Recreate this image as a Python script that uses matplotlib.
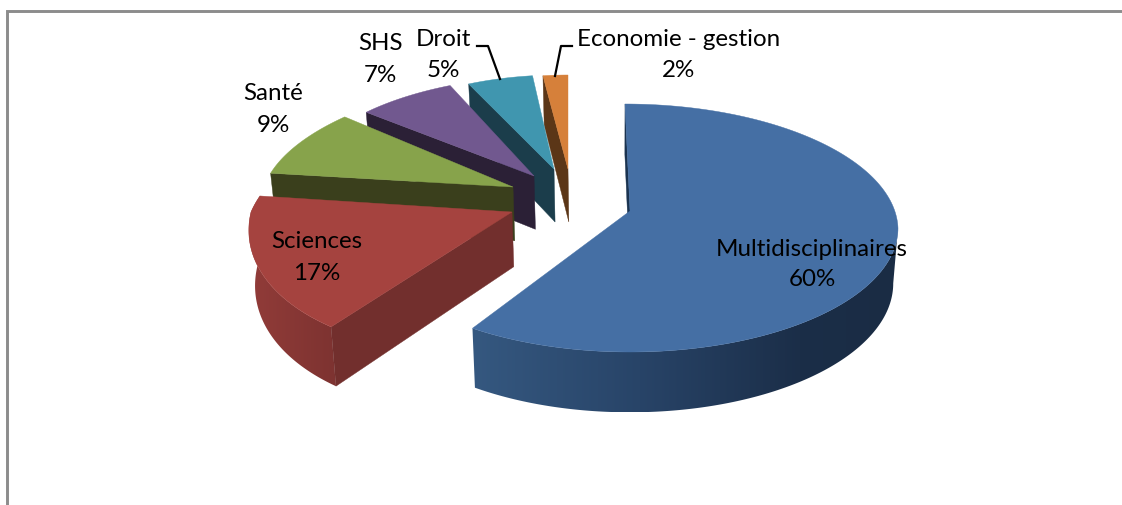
import numpy as np
import matplotlib
matplotlib.use('Agg')
import matplotlib.pyplot as plt
from matplotlib.patches import Polygon

# Donnees du camembert (sens horaire depuis le haut)
labels = ['Multidisciplinaires', 'Sciences', 'Santé', 'SHS', 'Droit', 'Economie - gestion']
values = [60, 17, 9, 7, 5, 2]

top_colors = ['#456FA4', '#A5433F', '#87A34B', '#71588F', '#4096AF', '#D6803A']
face_colors = ['#1A3350', '#722F2D', '#3A3F1C', '#2B2036', '#1B3D4B', '#5B3617']

# Geometrie de chaque part, en pixels (sommet, rayons, cisaillement de perspective)
apex_x = [630, 512, 513, 534, 554, 568]
apex_y = [212, 213, 188, 177, 170, 170]
radius_x = [268, 261, 249, 231, 211, 200]
shear_back = [-5, 55, 37, 16, 5, 0]
shear_front = [0, 34, 37, 16, 5, 0]
radius_back = [124, 128, 110, 100, 94, 94]
radius_front = [124, 142, 110, 100, 94, 94]
centre_dy = [17, 0, 0, 0, 0, 0]

# Position des etiquettes
label_x = [812, 317, 273, 380, 443, 679]
label_y = [249, 242, 93, 43, 39, 39]
pct_y = [279, 274, 125, 75, 70, 70]
label_size = 17.4

# Lignes de rappel
droit_x, droit_y = [477, 488, 500], [47, 47, 80]
eco_x, eco_y = [572, 561, 555], [47, 47, 77]

fig = plt.figure(figsize=(11.22, 5.06), dpi=100)
ax = fig.add_axes([0, 0, 1, 1])


def rim(i, ang):
    u, v = np.cos(ang), np.sin(ang)
    ry = np.where(v > 0, radius_back[i], radius_front[i])
    s = np.where(v > 0, shear_back[i], shear_front[i])
    x = apex_x[i] + radius_x[i] * u + s * v
    y = apex_y[i] + centre_dy[i] - ry * v
    return x, y


def drop(x, y):
    # le bas de la part: un peu vers le centre, plus haut devant
    return x + (617 - x) * 0.017, y + 53 + (y - 170) * 0.04


def cut_face(i, ang, color):
    x0, y0 = rim(i, np.array(ang))
    x1, y1 = apex_x[i], apex_y[i]
    xb0, yb0 = drop(x0, y0)
    xb1, yb1 = drop(x1, y1)
    ax.fill([x0, x1, xb1, xb0], [y0, y1, yb1, yb0], color=color, lw=0.3)


def front_rim(i, a0, a1, xs, cols):
    # flanc avant avec degrade horizontal
    angles = np.linspace(a0, a1, 200)
    x, y = rim(i, angles)
    xb, yb = drop(x, y)
    pts = np.c_[np.r_[x, xb[::-1]], np.r_[y, yb[::-1]]]
    grid = np.linspace(pts[:, 0].min(), pts[:, 0].max(), 300)
    cols = np.array(cols) / 255
    img = np.stack([np.interp(grid, xs, cols[:, j]) for j in range(3)], axis=-1)[None, :, :]
    patch = Polygon(pts, closed=True, transform=ax.transData, fc='none', ec='none')
    ax.add_patch(patch)
    im = ax.imshow(img, extent=[grid[0], grid[-1], pts[:, 1].max(), pts[:, 1].min()],
                   aspect='auto', interpolation='bilinear')
    im.set_clip_path(patch)


# Angles calcules depuis les valeurs
fractions = np.array(values) / sum(values)
starts = np.pi / 2 - 2 * np.pi * np.concatenate([[0], np.cumsum(fractions)[:-1]])
ends = starts - 2 * np.pi * fractions

# De l'arriere vers l'avant
for i in [5, 4, 3, 2, 1, 0]:
    if i == 0:
        cut_face(i, starts[i], face_colors[i])
        front_rim(i, ends[i], 0.0, [473, 640, 800, 893],
                  [(53, 88, 128), (40, 68, 104), (27, 46, 72), (26, 44, 68)])
    elif i == 1:
        front_rim(i, starts[i], ends[i], [247, 332], [(146, 60, 57), (126, 51, 49)])
        cut_face(i, starts[i], face_colors[i])
    else:
        cut_face(i, starts[i], face_colors[i])
    angles = np.linspace(starts[i], ends[i], 200)
    x, y = rim(i, angles)
    ax.fill(np.r_[apex_x[i], x], np.r_[apex_y[i], y], color=top_colors[i], lw=0.3)

# Lignes de rappel
ax.plot(droit_x, droit_y, color='black', lw=1.6)
ax.plot(eco_x, eco_y, color='black', lw=1.6)

# Etiquettes
for i in range(len(labels)):
    ax.text(label_x[i], label_y[i], labels[i], ha='center', va='center',
            family='Lato', fontsize=label_size, color='black')
    ax.text(label_x[i], pct_y[i], f'{values[i]}%', ha='center', va='center',
            family='Lato', fontsize=label_size, color='black')

# Cadre gris (haut et gauche seulement)
ax.plot([7.5, 7.5, 1122], [506, 11.5, 11.5], color='#8C8C8C', lw=2.1, solid_joinstyle='miter')

ax.set_xlim(0, 1122)
ax.set_ylim(506, 0)
ax.axis('off')

fig.savefig('out.png', dpi=100)
